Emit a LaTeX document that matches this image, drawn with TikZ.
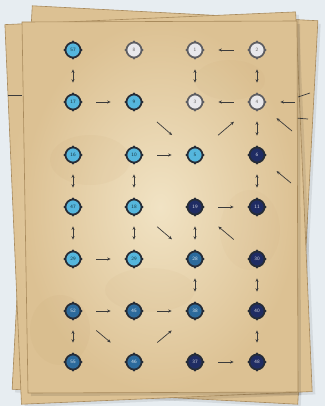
\documentclass[tikz,border=0pt]{standalone}
\usetikzlibrary{arrows.meta}
\definecolor{bgc}{HTML}{E7EDF1}
\definecolor{parchin}{HTML}{F1E3C4}
\definecolor{parchout}{HTML}{DCC193}
\definecolor{edgec}{HTML}{A88A5C}
\definecolor{blotc}{HTML}{B8905A}
\definecolor{cyanc}{HTML}{55B6DD}
\definecolor{whitec}{HTML}{E8E8EC}
\definecolor{midc}{HTML}{2C6A9C}
\definecolor{navyc}{HTML}{1F2C63}
\definecolor{ringc}{HTML}{262C36}
\definecolor{ringw}{HTML}{5E5E62}
\definecolor{arrc}{HTML}{3B3B3B}
\begin{document}
\begin{tikzpicture}[x=1pt,y=-1pt,
  paper/.style={inner color=parchin, outer color=parchout, draw=edgec, line width=0.6pt},
  nd/.style={circle, minimum size=15pt, inner sep=0pt, line width=1.7pt,
     font=\sffamily\fontsize{5}{5}\selectfont},
  ncy/.style={nd, fill=cyanc, draw=ringc, text=black!70!cyanc},
  nwh/.style={nd, fill=whitec, draw=ringw, text=black!60},
  nmd/.style={nd, fill=midc, draw=ringc, text=white!85!midc},
  nnv/.style={nd, fill=navyc, draw=ringc, text=white!80!navyc},
  con/.style={draw=arrc, line width=0.7pt},
  ah/.style={con, -{Stealth[length=3.5pt,width=3pt]}},
  ahb/.style={con, {Stealth[length=3.5pt,width=3pt]}-{Stealth[length=3.5pt,width=3pt]}},
  sh/.style={shorten <=15pt, shorten >=15pt},
  sv/.style={shorten <=11pt, shorten >=11pt},
  sd/.style={shorten <=22pt, shorten >=22pt}]
\fill[bgc] (0,0) rectangle (325,406);
\useasboundingbox (0,0) rectangle (325,406);
% back papers
\begin{scope}[rotate around={-3:(165,205)}]
  \fill[black,opacity=.08] (25,16) rectangle (311,400);
  \shade[paper] (22,13) rectangle (308,397);
\end{scope}
\begin{scope}[rotate around={2.5:(160,207)}]
  \fill[black,opacity=.08] (16,21) rectangle (307,401);
  \shade[paper] (13,18) rectangle (304,398);
\end{scope}
\draw[con] (8,95) -- (22,95);
\draw[con] (298,97) -- (310,93);
\draw[con] (295,118) -- (308,119);
% main page
\fill[black,opacity=.10] (25,25) -- (300,24) -- (301,395) -- (31,396) -- cycle;
\shade[paper] (22,22) -- (297,21) -- (298,392) -- (28,393) -- cycle;
\begin{scope}
  \clip (22,22) -- (297,21) -- (298,392) -- (28,393) -- cycle;
  \fill[blotc,opacity=.06] (90,160) ellipse (40pt and 25pt);
  \fill[blotc,opacity=.05] (230,80) ellipse (35pt and 20pt);
  \fill[blotc,opacity=.05] (150,290) ellipse (45pt and 22pt);
  \fill[blotc,opacity=.06] (60,330) ellipse (30pt and 35pt);
  \fill[blotc,opacity=.04] (250,230) ellipse (30pt and 40pt);
\end{scope}
% nodes
\node[ncy] (a1) at (73,50) {57};
\node[nwh] (b1) at (134,50) {8};
\node[nwh] (c1) at (195,50) {1};
\node[nwh] (d1) at (257,50) {2};
\node[ncy] (a2) at (73,102) {17};
\node[ncy] (b2) at (134,102) {9};
\node[nwh] (c2) at (195,102) {3};
\node[nwh] (d2) at (257,102) {4};
\node[ncy] (a3) at (73,155) {16};
\node[ncy] (b3) at (134,155) {10};
\node[ncy] (c3) at (195,155) {5};
\node[nnv] (d3) at (257,155) {6};
\node[ncy] (a4) at (73,207) {47};
\node[ncy] (b4) at (134,207) {18};
\node[nnv] (c4) at (195,207) {19};
\node[nnv] (d4) at (257,207) {11};
\node[ncy] (a5) at (73,259) {29};
\node[ncy] (b5) at (134,259) {29};
\node[nmd] (c5) at (195,259) {28};
\node[nnv] (d5) at (257,259) {30};
\node[nmd] (a6) at (73,311) {52};
\node[nmd] (b6) at (134,311) {45};
\node[nmd] (c6) at (195,311) {38};
\node[nnv] (d6) at (257,311) {40};
\node[nmd] (a7) at (73,362) {55};
\node[nmd] (b7) at (134,362) {46};
\node[nnv] (c7) at (195,362) {37};
\node[nnv] (d7) at (257,362) {48};
\foreach \n in {a1,a2,b2,a3,b3,c3,d3,a4,b4,c4,d4,a5,b5,c5,d5,a6,b6,c6,d6,a7,b7,c7,d7}
  \foreach \a in {north,south,east,west} \fill[ringc] (\n.\a) circle (1.3pt);
\foreach \n in {b1,c1,d1,c2,d2}
  \foreach \a in {north,south,east,west} \fill[ringw] (\n.\a) circle (1.3pt);
% external ends
\coordinate (e1) at (300,102);
\coordinate (e2) at (292,131);
\coordinate (e3) at (291,183);
% connectors
\draw[ahb,sv] (a1) -- (a2);
\draw[ah,sh] (a2) -- (b2);
\draw[ah,sd] (b2) -- (c3);
\draw[ah,sh] (d1) -- (c1);
\draw[ahb,sv] (c1) -- (c2);
\draw[ahb,sv] (d1) -- (d2);
\draw[ah,sh] (d2) -- (c2);
\draw[ah,shorten <=5pt,shorten >=15pt] (e1) -- (d2);
\draw[ah,sd] (c3) -- (d2);
\draw[ahb,sv] (d2) -- (d3);
\draw[ah,shorten <=0pt,shorten >=17pt] (e2) -- (d2);
\draw[ahb,sv] (a3) -- (a4);
\draw[ahb,sv] (b3) -- (b4);
\draw[ah,sh] (b3) -- (c3);
\draw[ahb,sv] (d3) -- (d4);
\draw[ah,shorten <=0pt,shorten >=17pt] (e3) -- (d3);
\draw[ah,sh] (c4) -- (d4);
\draw[ahb,sv] (c4) -- (c5);
\draw[ah,sd] (d5) -- (c4);
\draw[ahb,sv] (a4) -- (a5);
\draw[ahb,sv] (b4) -- (b5);
\draw[ah,sd] (b4) -- (c5);
\draw[ah,sh] (a5) -- (b5);
\draw[ahb,sv] (c5) -- (c6);
\draw[ahb,sv] (d5) -- (d6);
\draw[ah,sh] (a6) -- (b6);
\draw[ah,sh] (b6) -- (c6);
\draw[ahb,sv] (a6) -- (a7);
\draw[ah,sd] (a6) -- (b7);
\draw[ah,sd] (b7) -- (c6);
\draw[ahb,sv] (d6) -- (d7);
\draw[ah,sh] (c7) -- (d7);
\end{tikzpicture}
\end{document}
